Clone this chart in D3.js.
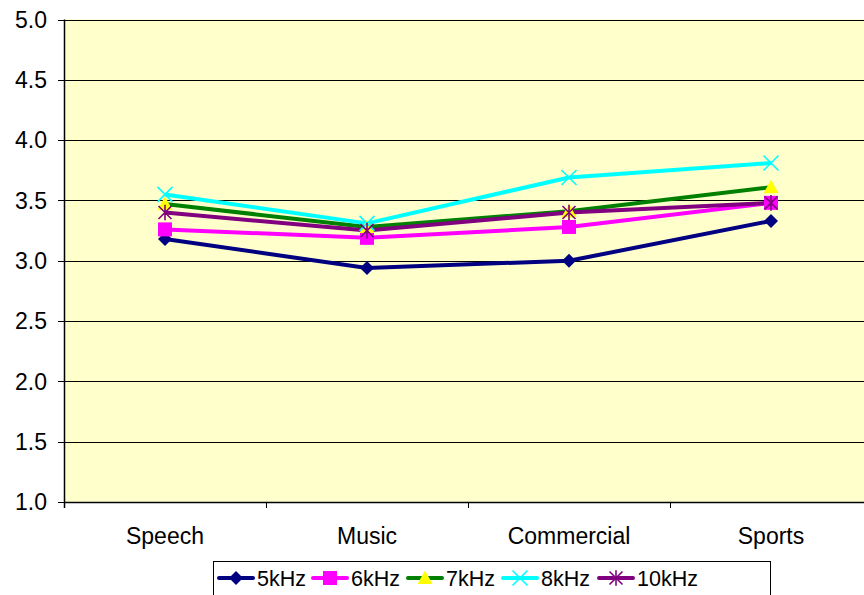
<!DOCTYPE html>
<html><head><meta charset="utf-8">
<script src="https://cdn.jsdelivr.net/npm/d3@7"></script>
<style>body{margin:0;background:#fff;}svg{display:block;font-family:"Liberation Sans",Arial,sans-serif;}</style>
</head><body>
<svg id="c" width="864" height="595"></svg>
<script>
const categories = ["Speech","Music","Commercial","Sports"];
const seriesNames = ["5kHz","6kHz","7kHz","8kHz","10kHz"];
const s5 = [3.18, 2.94, 3.00, 3.33];
const s6 = [3.26, 3.19, 3.28, 3.48];
const s7 = [3.47, 3.28, 3.41, 3.61];
const s8 = [3.55, 3.31, 3.69, 3.81];
const s10 = [3.40, 3.25, 3.40, 3.48];
const yTicks = [1.0,1.5,2.0,2.5,3.0,3.5,4.0,4.5,5.0];

const series = [
  {name:seriesNames[0], values:s5, line:"#000080", fill:"#000080", stroke:"#000080", shape:"diamond"},
  {name:seriesNames[1], values:s6, line:"#FF00FF", fill:"#FF00FF", stroke:"#FF00FF", shape:"square"},
  {name:seriesNames[2], values:s7, line:"#008000", fill:"#FFFF00", stroke:"#FFFF00", shape:"triangle"},
  {name:seriesNames[3], values:s8, line:"#00FFFF", fill:"none", stroke:"#00FFFF", shape:"x"},
  {name:seriesNames[4], values:s10, line:"#800080", fill:"none", stroke:"#800080", shape:"star"}
];

const svg = d3.select("#c");
const L = 64, T = 19.5, B = 502, R = 872;
const x = d3.scaleBand().domain(categories).range([L, R]).padding(0);
const y = d3.scaleLinear().domain([1,5]).range([B, T]);

svg.append("rect").attr("x",L).attr("y",T).attr("width",R-L).attr("height",B-T).attr("fill","#FFFFCC");

svg.append("g").selectAll("line").data(yTicks).join("line")
  .attr("x1",L-6).attr("x2",R).attr("y1",d=>Math.round(y(d))+0.5).attr("y2",d=>Math.round(y(d))+0.5)
  .attr("stroke","#000").attr("stroke-width",1);

svg.append("g").selectAll("text").data(yTicks).join("text")
  .attr("x",47).attr("y",d=>y(d)).attr("dy","0.36em").attr("text-anchor","end")
  .attr("font-size",23).attr("fill","#000").text(d=>d.toFixed(1));

svg.append("line").attr("x1",L+0.5).attr("x2",L+0.5).attr("y1",T).attr("y2",B+6).attr("stroke","#000").attr("stroke-width",1.5);
svg.append("line").attr("x1",L).attr("x2",R).attr("y1",B+0.5).attr("y2",B+0.5).attr("stroke","#000").attr("stroke-width",1.5);
svg.append("g").selectAll("line").data(categories).join("line")
  .attr("x1",d=>Math.round(x(d))+0.5).attr("x2",d=>Math.round(x(d))+0.5).attr("y1",B).attr("y2",B+6)
  .attr("stroke","#000").attr("stroke-width",1);
svg.append("g").selectAll("text").data(categories).join("text")
  .attr("x",d=>x(d)+x.bandwidth()/2).attr("y",544).attr("text-anchor","middle")
  .attr("font-size",23).attr("fill","#000").text(d=>d);

function marker(g, s, cx, cy, k){
  k = k||1;
  if(s.shape==="diamond"){
    const r=7*k;
    g.append("path").attr("d",`M${cx},${cy-r}L${cx+r},${cy}L${cx},${cy+r}L${cx-r},${cy}Z`).attr("fill",s.fill);
  } else if(s.shape==="square"){
    const r=7*k;
    g.append("rect").attr("x",cx-r).attr("y",cy-r).attr("width",2*r).attr("height",2*r).attr("fill",s.fill);
  } else if(s.shape==="triangle"){
    const r=7.5*k;
    g.append("path").attr("d",`M${cx},${cy-r}L${cx+r},${cy+r*0.8}L${cx-r},${cy+r*0.8}Z`).attr("fill",s.fill);
  } else if(s.shape==="x"){
    const r=7.5*k;
    g.append("path").attr("d",`M${cx-r},${cy-r}L${cx+r},${cy+r}M${cx-r},${cy+r}L${cx+r},${cy-r}`).attr("stroke",s.stroke).attr("stroke-width",1.6).attr("fill","none");
  } else if(s.shape==="star"){
    const r=6.5*k;
    g.append("path").attr("d",`M${cx-r},${cy-r}L${cx+r},${cy+r}M${cx-r},${cy+r}L${cx+r},${cy-r}M${cx},${cy-r*1.2}L${cx},${cy+r*1.2}`).attr("stroke",s.stroke).attr("stroke-width",1.6).attr("fill","none");
  }
}

const line = d3.line().x((d,i)=>x(categories[i])+x.bandwidth()/2).y(d=>y(d));
series.forEach(s=>{
  svg.append("path").datum(s.values).attr("d",line).attr("fill","none").attr("stroke",s.line).attr("stroke-width",4).attr("stroke-linejoin","round");
});
series.forEach(s=>{
  const g = svg.append("g");
  s.values.forEach((v,i)=>marker(g,s,x(categories[i])+x.bandwidth()/2,y(v)));
});

const lg = svg.append("g");
lg.append("rect").attr("x",213.5).attr("y",561.5).attr("width",557).attr("height",36).attr("fill","#fff").attr("stroke","#000").attr("stroke-width",1);
const starts = [219, 313, 408, 503, 599];
series.forEach((s,i)=>{
  const x0 = starts[i], cy = 578;
  lg.append("line").attr("x1",x0).attr("x2",x0+34).attr("y1",cy).attr("y2",cy).attr("stroke",s.line).attr("stroke-width",4).attr("stroke-linecap","round");
  marker(lg, s, x0+17, cy, 1);
  lg.append("text").attr("x",x0+38).attr("y",cy).attr("dy","0.36em").attr("font-size",21.5).attr("fill","#000").text(s.name);
});
</script>
</body></html>
